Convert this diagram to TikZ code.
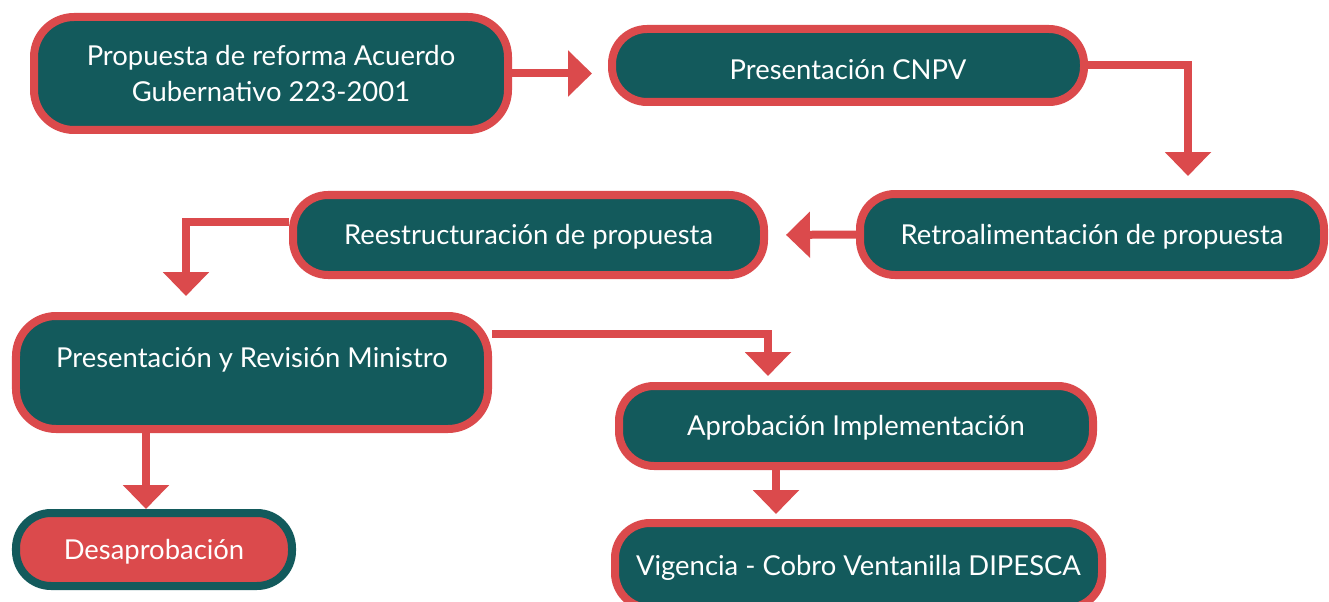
\documentclass[tikz,border=0pt]{standalone}
\usepackage{fontspec}
\setmainfont{Lato}
\usetikzlibrary{arrows.meta}
\definecolor{petrol}{HTML}{135A5C}
\definecolor{coral}{HTML}{DB4A4C}

\begin{document}
\begin{tikzpicture}[
		paso/.style={draw=coral, fill=petrol, line width=0.16cm, rounded corners=0.7cm,
			text=white, font=\fontsize{15.6}{20}\selectfont, align=center, inner sep=0pt},
		linea/.style={text height=0.5cm, text depth=0.12cm},
		rechazo/.style={paso, linea, draw=petrol, fill=coral},
		flow/.style={draw=coral, line width=0.16cm, -{Triangle[width=0.9cm,length=0.48cm]}}
	]
			%%%%% START %%%%%
			
			\useasboundingbox (0, 0) rectangle (26.58, -12.04);
			
			\node[paso, minimum width=9.48cm, minimum height=2.26cm, rounded corners=0.8cm] (propuesta) at (5.42, -1.47) {Propuesta de reforma Acuerdo\\Gubernativo 223-2001};
			\node[paso, text height=0.6cm, text depth=0.02cm, minimum width=9.44cm, minimum height=1.46cm] (cnpv) at (16.96, -1.31) {Presentación CNPV};
			\node[paso, linea, minimum width=9.28cm, minimum height=1.62cm] (retro) at (21.84, -4.69) {Retroalimentación de propuesta};
			\node[paso, linea, minimum width=9.42cm, minimum height=1.60cm] (reestr) at (10.57, -4.70) {Reestructuración de propuesta};
			
			\node[paso, minimum width=9.44cm, minimum height=2.26cm, rounded corners=0.8cm,
				text height=0.4cm, text depth=0.62cm] (ministro) at (5.04, -7.45) {Presentación y Revisión Ministro};
			\node[paso, linea, minimum width=9.48cm, minimum height=1.60cm] (aprob) at (17.12, -8.52) {Aprobación Implementación};
			\node[paso, linea, minimum width=9.74cm, minimum height=1.70cm] (vigencia) at (17.17, -11.31) {Vigencia - Cobro Ventanilla DIPESCA};
			\node[rechazo, minimum width=5.52cm, minimum height=1.46cm] (desaprob) at (3.08, -10.99) {Desaprobación};
			
			\coordinate (aprobpie) at ([xshift=-1.6cm]aprob.south);
			\coordinate (ministropie) at ([xshift=-2.12cm]ministro.south);
			
			\draw[flow, shorten >=0.32cm] (propuesta.east) -- (propuesta.east -| cnpv.west);
			\draw[flow, shorten >=0.28cm] (cnpv.east) -| ([xshift=1.92cm]retro.north);
			\draw[flow, shorten >=0.36cm] (retro.west) -- (reestr.east);
			\draw[flow, shorten >=0.32cm] ([yshift=0.26cm]reestr.west) -| ([xshift=-1.32cm]ministro.north);
			\draw[flow, shorten >=0.12cm] ([yshift=0.77cm]ministro.east) -| ([xshift=-1.76cm]aprob.north);
			\draw[flow, shorten >=0.1cm] (aprobpie) -- (aprobpie |- vigencia.north);
			\draw[flow] (ministropie) -- (ministropie |- desaprob.north);
			
			%%%%% END %%%%%
\end{tikzpicture}
\end{document}
